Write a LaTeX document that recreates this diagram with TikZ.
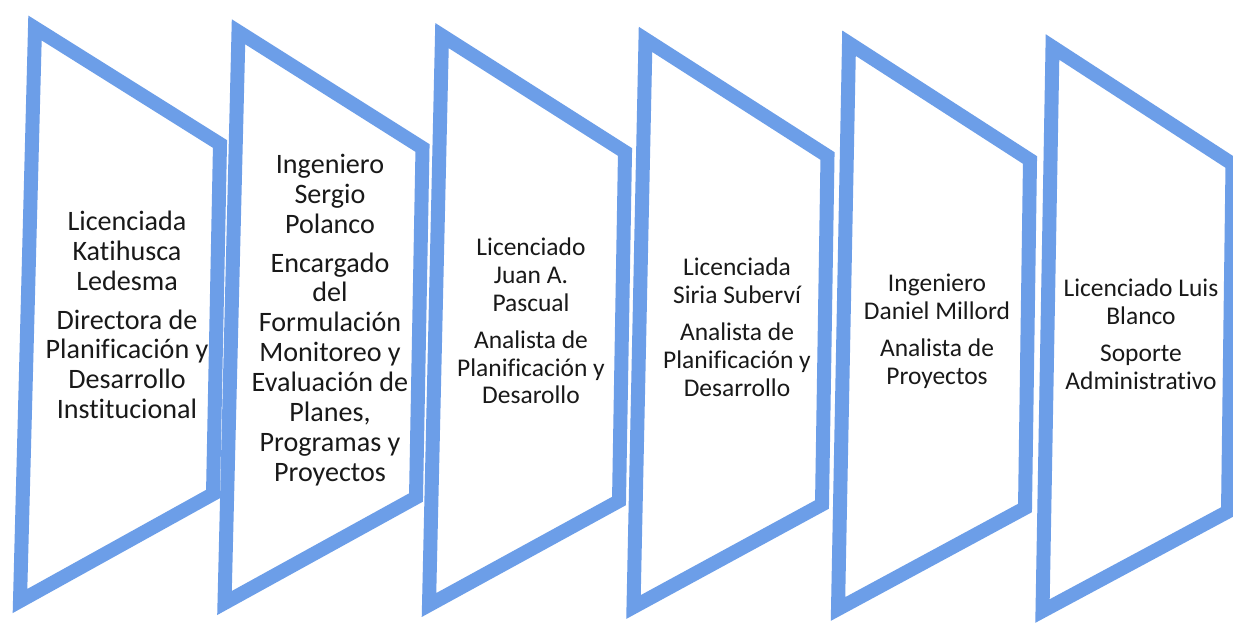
\documentclass[tikz,border=0pt]{standalone}
\usepackage{fontspec}
\setmainfont{Carlito}[Ligatures=NoCommon]
\definecolor{bandblue}{RGB}{108,158,232}
\definecolor{inktext}{RGB}{25,25,25}
\begin{document}
\begin{tikzpicture}[x=0.02cm,y=-0.02cm,
  band/.style={draw=bandblue, line width=0.28cm, line join=miter, fill=white},
  bigtxt/.style={align=center, text=inktext, inner sep=0pt, font=\fontsize{16}{17}\selectfont},
  smalltxt/.style={align=center, text=inktext, inner sep=0pt, font=\fontsize{14.5}{15.9}\selectfont}]
\useasboundingbox (0,0) rectangle (1233,626);
\clip (0,0) rectangle (1233,626);
\fill[white] (0,0) rectangle (1233,626);
\foreach \i in {0,...,5} {
  \draw[band] ({35+203.5*\i},{28+3.8*\i}) -- ({220+202.5*\i},{144+4*\i})
    -- ({213+203*\i},{494+3.5*\i}) -- ({20+204.5*\i},{601+2*\i}) -- cycle;
}
\node[bigtxt] (t1) at (127,315) {Licenciada\\Katihusca\\Ledesma\\[5pt]Directora de\\Planificación y\\Desarrollo\\Institucional};
\node[bigtxt] (t2) at (330,320) {Ingeniero\\Sergio\\Polanco\\[5pt]Encargado\\del\\Formulación\\Monitoreo y\\Evaluación de\\Planes,\\Programas y\\Proyectos};
\node[smalltxt] (t3) at (531,321) {Licenciado\\Juan A.\\Pascual\\[5pt]Analista de\\Planificación y\\Desarollo};
\node[smalltxt] (t4) at (737,327) {Licenciada\\Siria Suberví\\[5pt]Analista de\\Planificación y\\Desarrollo};
\node[smalltxt] (t5) at (937,331) {Ingeniero\\Daniel Millord\\[5pt]Analista de\\Proyectos};
\node[smalltxt] (t6) at (1141,334) {Licenciado Luis\\Blanco\\[5pt]Soporte\\Administrativo};
\end{tikzpicture}
\end{document}
